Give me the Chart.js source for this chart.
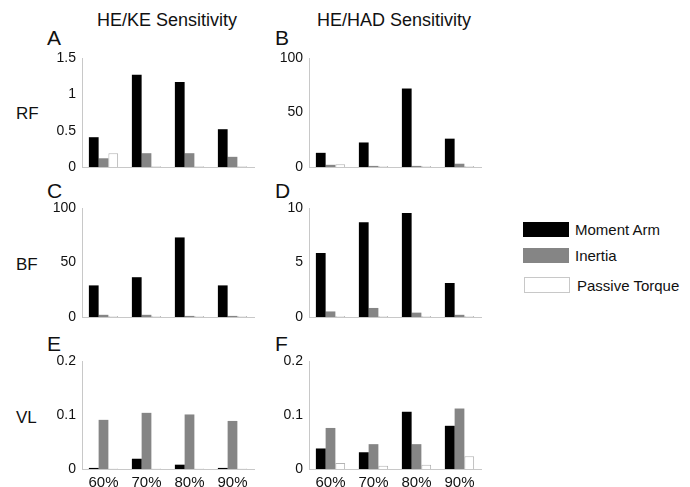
<!DOCTYPE html>
<html>
<head>
<meta charset="utf-8">
<script src="https://cdn.jsdelivr.net/npm/chart.js@4/dist/chart.umd.min.js"></script>
<style>
  body { margin: 0; background: #fff; width: 690px; height: 487px; position: relative; overflow: hidden;
         font-family: "Liberation Sans", Arial, sans-serif; color: #111; }
  .txt { position: absolute; white-space: nowrap; line-height: 1; }
  canvas { position: absolute; }
  .box { position: absolute; width: 46px; height: 15px; box-sizing: border-box; }
</style>
</head>
<body>
<div class="txt" style="left:167px;top:11px;font-size:18px;transform:translateX(-50%)">HE/KE Sensitivity</div>
<div class="txt" style="left:394px;top:11px;font-size:18px;transform:translateX(-50%)">HE/HAD Sensitivity</div>

<div class="txt" style="left:47px;top:27px;font-size:21px">A</div>
<div class="txt" style="left:275px;top:27px;font-size:21px">B</div>
<div class="txt" style="left:47px;top:180px;font-size:21px">C</div>
<div class="txt" style="left:275px;top:180px;font-size:21px">D</div>
<div class="txt" style="left:47px;top:333px;font-size:21px">E</div>
<div class="txt" style="left:275px;top:333px;font-size:21px">F</div>

<div class="txt" style="left:16px;top:105px;font-size:17px">RF</div>
<div class="txt" style="left:16px;top:256px;font-size:17px">BF</div>
<div class="txt" style="left:16px;top:409px;font-size:17px">VL</div>

<div class="box" style="left:523px;top:222px;background:#000"></div>
<div class="txt" style="left:575px;top:222px;font-size:15px">Moment Arm</div>
<div class="box" style="left:523px;top:248px;background:#858585"></div>
<div class="txt" style="left:575px;top:248px;font-size:15px">Inertia</div>
<div class="box" style="left:524px;top:277px;height:16px;background:#fff;border:1px solid #c8c8c8"></div>
<div class="txt" style="left:577px;top:278px;font-size:15px">Passive Torque</div>

<canvas id="cA"></canvas>
<canvas id="cB"></canvas>
<canvas id="cC"></canvas>
<canvas id="cD"></canvas>
<canvas id="cE"></canvas>
<canvas id="cF"></canvas>

<script>
// categorias (ângulo do joelho)
const categories = ['60%', '70%', '80%', '90%'];

// A: RF, HE/KE
const aMoment = [0.41, 1.27, 1.17, 0.52];
const aInertia = [0.12, 0.19, 0.19, 0.14];
const aPassive = [0.19, 0.01, 0.01, 0.01];

// B: RF, HE/HAD
const bMoment = [13, 22.5, 72, 26];
const bInertia = [2, 1, 1, 3];
const bPassive = [2.5, 1, 1, 1];

// C: BF, HE/KE
const cMoment = [29, 36.5, 73, 29];
const cInertia = [2, 2, 1, 1];
const cPassive = [1, 1, 1, 1];

// D: BF, HE/HAD
const dMoment = [5.87, 8.7, 9.54, 3.12];
const dInertia = [0.51, 0.83, 0.4, 0.2];
const dPassive = [0.1, 0.1, 0.1, 0.1];

// E: VL, HE/KE
const eMoment = [0.002, 0.019, 0.008, 0.002];
const eInertia = [0.091, 0.104, 0.101, 0.089];
const ePassive = [0.001, 0.001, 0.001, 0.001];

// F: VL, HE/HAD
const fMoment = [0.038, 0.031, 0.106, 0.080];
const fInertia = [0.076, 0.046, 0.046, 0.112];
const fPassive = [0.011, 0.006, 0.008, 0.0235];

// limites do eixo y
const yMaxA = 1.5, yStepA = 0.5;
const yMaxB = 100, yStepB = 50;
const yMaxC = 100, yStepC = 50;
const yMaxD = 10, yStepD = 5;
const yMaxE = 0.2, yStepE = 0.1;
const yMaxF = 0.2, yStepF = 0.1;

const AXIS = '#c8c8c8';
const YW = 50;   // largura do eixo y
const PADT = 16; // folga em cima (maior que meia etiqueta + padding)

function painel(id, area, moment, inertia, passive, yMax, yStep, showX) {
    // area = [esquerda, topo, direita, base] da área do gráfico
    const xh = showX ? 26 : 16;
    const cv = document.getElementById(id);
    cv.width = (area[2] - area[0]) + YW + 4;
    cv.height = (area[3] - area[1]) + PADT + xh;
    cv.style.left = (area[0] - YW) + 'px';
    cv.style.top = (area[1] - PADT) + 'px';

    new Chart(cv.getContext('2d'), {
        type: 'bar',
        data: {
            labels: categories,
            datasets: [
                { label: 'Moment Arm', data: moment, backgroundColor: '#000', borderWidth: 0 },
                { label: 'Inertia', data: inertia, backgroundColor: '#858585', borderWidth: 0 },
                { label: 'Passive Torque', data: passive, backgroundColor: '#fff', borderColor: '#b4b4b4', borderWidth: 1 }
            ]
        },
        options: {
            responsive: false,
            animation: false,
            layout: { padding: { top: PADT, right: 4, left: 0, bottom: 0 } },
            datasets: { bar: { categoryPercentage: 0.68, barPercentage: 1.0 } },
            plugins: { legend: { display: false }, tooltip: { enabled: false } },
            scales: {
                x: {
                    grid: { display: false, drawTicks: false },
                    border: { display: true, color: AXIS, width: 1 },
                    ticks: {
                        display: showX, padding: 5, color: '#111',
                        font: { family: '"Liberation Sans", Arial, sans-serif', size: 15 }
                    },
                    afterFit: s => { s.height = xh; }
                },
                y: {
                    min: 0, max: yMax,
                    grid: { display: false, drawTicks: false },
                    border: { display: true, color: AXIS, width: 1 },
                    ticks: {
                        stepSize: yStep, padding: 6, color: '#111',
                        font: { family: '"Liberation Sans", Arial, sans-serif', size: 14 },
                        callback: v => String(+v.toFixed(3))
                    },
                    afterFit: s => { s.width = YW; }
                }
            }
        }
    });
}

painel('cA', [82, 58, 254, 167], aMoment, aInertia, aPassive, yMaxA, yStepA, false);
painel('cB', [309, 58, 481, 167], bMoment, bInertia, bPassive, yMaxB, yStepB, false);
painel('cC', [82, 208, 254, 317], cMoment, cInertia, cPassive, yMaxC, yStepC, false);
painel('cD', [309, 208, 481, 317], dMoment, dInertia, dPassive, yMaxD, yStepD, false);
painel('cE', [82, 361, 254, 469], eMoment, eInertia, ePassive, yMaxE, yStepE, true);
painel('cF', [309, 361, 481, 469], fMoment, fInertia, fPassive, yMaxF, yStepF, true);
</script>
</body>
</html>
